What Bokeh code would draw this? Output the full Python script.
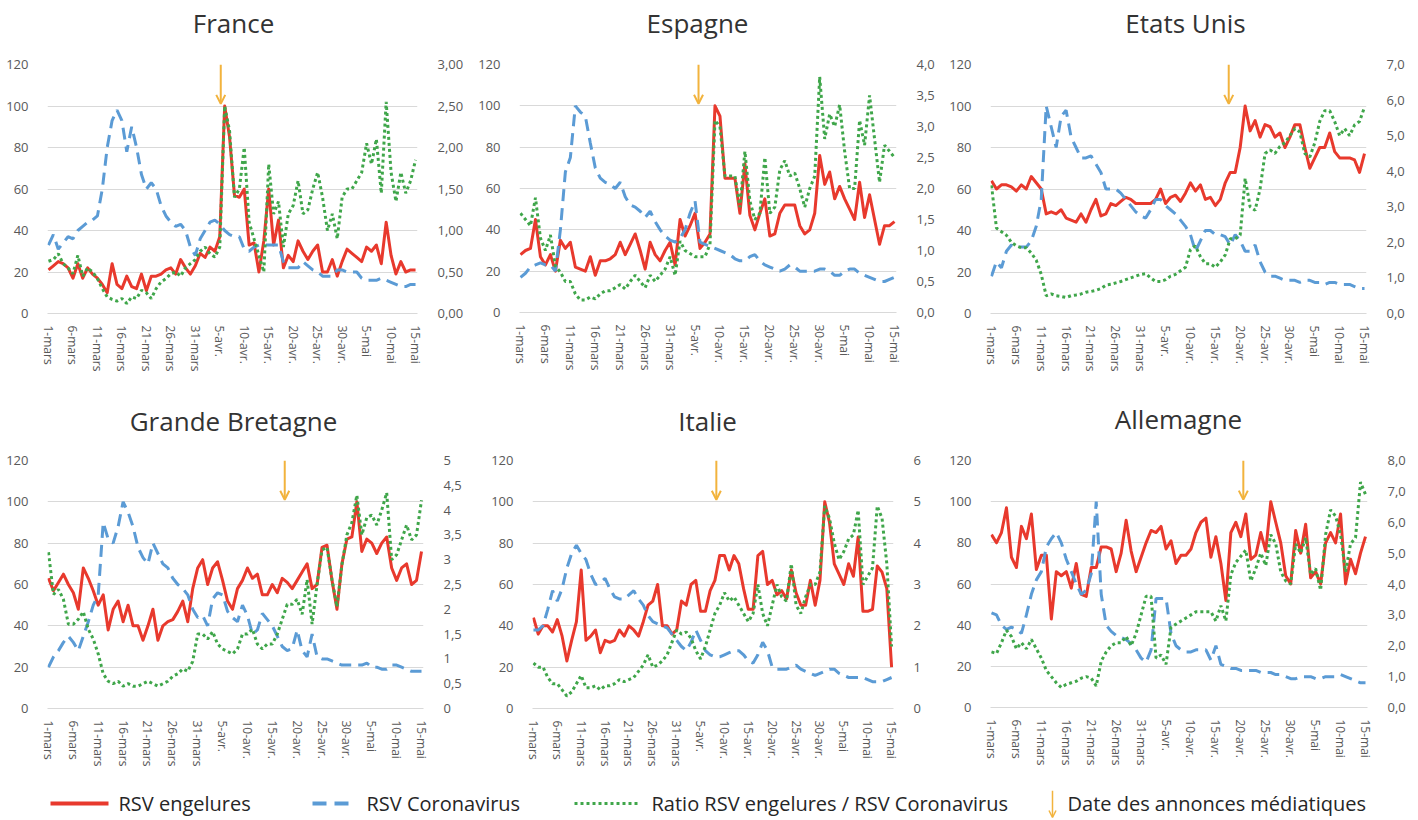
from bokeh.plotting import figure
from bokeh.models import Range1d, LinearAxis, FixedTicker, Arrow, OpenHead
from bokeh.layouts import column, row
from bokeh.embed import file_html
from bokeh.resources import INLINE
from bokeh.core.properties import value

# ---------------- data ----------------
days = list(range(76))  # 1-mars ... 15-mai
x_tick_days = [0, 5, 10, 15, 20, 25, 30, 35, 40, 45, 50, 55, 60, 65, 70, 75]
x_tick_labels = ["1-mars", "6-mars", "11-mars", "16-mars", "21-mars", "26-mars", "31-mars",
                 "5-avr.", "10-avr.", "15-avr.", "20-avr.", "25-avr.", "30-avr.",
                 "5-mai", "10-mai", "15-mai"]
left_ticks = [0, 20, 40, 60, 80, 100, 120]

titles_top = ["France", "Espagne", "Etats Unis"]
titles_bottom = ["Grande Bretagne", "Italie", "Allemagne"]

france_red = [21,23,25,24,22,17,24,17,22,19, 17,14,10,24,14,12,18,13,12,19,
              11,18,18,19,21,22,19,26,22,19, 23,29,27,32,30,37,100,85,57,56,
              60,33,34,20,35,60,33,45,22,28, 25,35,30,26,30,33,20,20,26,18,
              25,31,29,27,25,32,30,33,24,44, 28,19,25,20,21,21]
france_blue = [33,38,31,34,37,36,40,42,44,45, 47,60,80,93,98,93,78,90,80,67,
               60,63,60,52,47,44,42,43,40,32, 28,36,40,44,45,43,40,38,37,37,
               31,30,32,33,33,33,33,33,25,22, 22,22,25,23,21,20,18,18,18,21,
               21,20,20,20,17,16,16,16,17,16, 15,14,13,13,14,14]
france_ratio = [0.63,0.65,0.72,0.6,0.55,0.48,0.7,0.45,0.55,0.5, 0.42,0.3,0.2,0.17,0.15,0.18,0.12,0.2,0.18,0.28,
                0.25,0.18,0.3,0.38,0.42,0.48,0.5,0.45,0.55,0.6, 0.65,0.75,0.8,0.72,0.68,0.8,2.5,2.2,1.4,1.5,
                2.0,1.1,0.9,0.7,0.5,1.8,1.2,1.35,0.8,1.2, 1.3,1.6,1.2,1.25,1.5,1.7,1.4,1.0,1.2,0.9,
                1.4,1.5,1.5,1.6,1.7,2.05,1.8,2.1,1.45,2.55, 1.7,1.35,1.7,1.45,1.6,1.85]
france_ratio_ticks = [0, 0.5, 1, 1.5, 2, 2.5, 3]
france_ratio_labels = ["0,00", "0,50", "1,00", "1,50", "2,00", "2,50", "3,00"]
france_announce = 35.2

espagne_red = [28,30,31,45,27,23,28,20,35,31, 34,22,21,20,27,18,25,25,26,28,
               34,28,33,38,30,21,34,28,25,30, 34,23,45,37,42,48,31,34,38,100,
               95,65,65,65,48,72,47,40,48,55, 37,38,48,52,52,52,42,38,40,48,
               76,62,68,55,61,55,50,45,63,46, 57,45,33,42,42,44]
espagne_blue = [17,19,22,23,24,23,23,20,40,68, 75,100,97,95,82,70,65,63,62,60,
                63,56,52,51,49,46,49,44,40,37, 35,34,36,40,48,54,34,33,32,31,
                30,29,28,26,25,25,27,28,25,23, 22,21,20,21,23,22,20,20,20,20,
                21,21,20,18,18,20,21,21,19,18, 17,16,15,15,16,17]
espagne_ratio = [1.6,1.5,1.4,1.85,1.2,1.0,1.25,0.75,0.65,0.5, 0.5,0.3,0.2,0.2,0.25,0.22,0.3,0.35,0.35,0.4,
                 0.45,0.38,0.5,0.6,0.5,0.4,0.6,0.5,0.6,0.7, 0.9,0.6,1.15,1.0,0.95,0.9,0.9,0.9,1.1,3.1,
                 3.0,2.2,2.2,2.2,1.7,2.6,1.8,1.5,1.6,2.5, 1.6,1.7,2.3,2.45,2.2,2.25,2.0,1.7,2.0,2.2,
                 3.8,2.8,3.2,3.0,3.35,2.6,2.0,2.0,3.1,2.7, 3.5,2.8,2.1,2.7,2.6,2.5]
espagne_ratio_ticks = [0, 0.5, 1, 1.5, 2, 2.5, 3, 3.5, 4]
espagne_ratio_labels = ["0,0", "0,5", "1,0", "1,5", "2,0", "2,5", "3,0", "3,5", "4,0"]
espagne_announce = 35.7

us_red = [64,60,62,62,61,59,62,60,66,63, 60,48,49,48,50,46,45,44,48,44,
          50,55,47,48,53,52,54,56,55,53, 53,53,53,55,60,53,56,57,54,58,
          63,59,62,55,56,52,55,63,68,68, 80,100,88,93,85,91,90,85,87,80,
          85,91,91,80,70,75,80,80,87,78, 75,75,75,74,68,77]
us_blue = [18,25,22,30,33,32,32,32,35,42, 55,100,90,80,95,98,85,80,75,75,
           76,72,68,60,60,60,58,55,52,49, 47,46,50,55,55,52,50,48,45,42,
           38,30,35,40,40,38,38,37,33,38, 35,30,30,33,25,20,18,18,17,16,
           16,16,15,16,16,15,15,14,15,15, 14,14,14,13,12,12]
us_ratio = [3.6,2.4,2.3,2.2,2.0,1.9,1.85,1.85,1.7,1.5, 1.1,0.5,0.55,0.5,0.48,0.45,0.5,0.52,0.55,0.6,
            0.62,0.65,0.7,0.8,0.82,0.86,0.9,0.95,1.0,1.05, 1.1,1.12,1.0,0.9,0.9,0.95,1.05,1.1,1.2,1.3,
            1.8,1.9,1.6,1.4,1.4,1.3,1.45,1.65,2.1,2.1, 2.2,3.8,3.0,2.9,3.5,4.5,4.6,4.5,4.7,4.8,
            5.0,5.2,5.1,4.5,4.4,4.8,5.4,5.7,5.7,5.4, 5.0,5.2,5.0,5.3,5.4,5.8]
us_ratio_ticks = [0, 1, 2, 3, 4, 5, 6, 7]
us_ratio_labels = ["0,0", "1,0", "2,0", "3,0", "4,0", "5,0", "6,0", "7,0"]
us_announce = 47.7

gb_red = [63,57,61,65,60,56,48,68,63,57, 50,55,38,48,52,42,50,40,40,33,
          40,48,33,40,42,43,47,52,42,58, 68,72,60,68,71,62,52,48,58,62,
          68,63,65,55,55,60,56,63,61,58, 62,66,70,58,60,78,79,62,48,70,
          82,83,100,76,82,80,75,80,83,68, 62,68,70,60,62,76]
gb_blue = [20,25,28,32,35,32,28,35,42,50, 55,90,82,80,88,100,95,88,78,73,
           70,80,75,70,68,63,60,58,55,48, 44,45,40,53,56,55,47,44,42,50,
           45,36,38,46,43,40,35,30,28,29, 38,28,25,36,25,24,24,23,22,21,
           21,21,21,21,22,20,20,19,19,21, 21,20,19,18,18,18]
gb_ratio = [3.15,2.3,2.4,2.2,1.7,1.7,1.8,1.95,1.6,1.4, 1.1,0.7,0.55,0.5,0.55,0.45,0.5,0.45,0.45,0.5,
            0.55,0.5,0.45,0.5,0.55,0.65,0.7,0.8,0.75,0.95, 1.5,1.5,1.4,1.55,1.3,1.2,1.15,1.1,1.2,1.5,
            1.5,1.6,1.3,1.2,1.3,1.3,1.5,1.8,2.1,2.1, 2.2,1.9,2.6,1.7,2.5,3.2,3.25,2.6,2.05,2.9,
            3.5,3.75,4.3,3.5,3.85,3.9,3.7,4.0,4.35,3.0, 3.1,3.4,3.7,3.4,3.5,4.2]
gb_ratio_ticks = [0, 0.5, 1, 1.5, 2, 2.5, 3, 3.5, 4, 4.5, 5]
gb_ratio_labels = ["0", "0,5", "1", "1,5", "2", "2,5", "3", "3,5", "4", "4,5", "5"]
gb_announce = 47.5

italie_red = [44,36,40,40,37,43,35,23,33,42, 67,33,35,38,27,33,32,33,38,35,
              40,38,35,42,50,52,60,40,40,36, 38,52,50,60,62,47,47,57,62,74,
              74,67,74,70,58,48,48,74,76,60, 62,55,57,53,67,56,50,50,62,50,
              62,100,90,70,65,60,70,64,83,47, 47,48,69,66,58,20]
italie_blue = [38,38,40,48,57,52,58,68,75,79, 75,72,65,60,61,63,58,54,53,53,
               55,57,53,50,45,42,41,40,39,36, 33,30,28,32,38,33,28,26,25,25,
               26,27,28,28,26,23,22,26,32,28, 20,19,19,19,20,21,19,18,17,16,
               17,18,19,19,17,16,15,15,15,15, 14,13,13,13,14,15]
italie_ratio = [1.1,1.0,1.0,0.75,0.6,0.6,0.45,0.3,0.4,0.6, 0.8,0.5,0.5,0.55,0.45,0.55,0.55,0.6,0.7,0.65,
                0.7,0.75,0.9,1.05,1.3,1.0,1.05,1.15,1.3,1.6, 1.9,1.8,1.85,1.7,1.4,1.2,1.5,1.9,2.3,2.5,
                2.8,2.6,2.7,2.5,2.3,2.1,2.3,3.0,2.3,2.0, 2.5,3.0,2.7,2.6,3.5,2.5,2.3,2.7,3.0,3.0,
                3.3,4.9,4.6,4.0,3.6,3.8,4.1,4.2,4.8,3.0, 3.2,3.4,4.9,4.6,3.5,1.5]
italie_ratio_ticks = [0, 1, 2, 3, 4, 5, 6]
italie_ratio_labels = ["0", "1", "2", "3", "4", "5", "6"]
italie_announce = 38.3

allemagne_red = [84,80,85,97,73,68,88,82,94,67, 74,74,43,66,64,66,58,70,55,54,
                 68,68,78,78,77,66,75,91,76,66, 73,80,86,85,88,77,81,70,74,74,
                 77,85,90,92,73,83,70,52,85,90, 83,94,72,74,85,76,100,90,80,64,
                 60,86,75,89,63,66,60,80,85,80, 94,60,72,65,75,83]
allemagne_blue = [46,45,40,38,39,38,36,45,55,62, 66,78,82,85,80,72,66,60,55,57,
                  65,100,55,40,37,35,34,33,31,28, 24,22,28,53,53,53,36,30,28,27,
                  27,28,28,28,23,30,21,20,19,19, 18,18,18,18,17,17,17,16,16,15,
                  14,14,15,15,15,14,14,15,15,15, 16,15,14,13,12,12]
allemagne_ratio = [1.8,1.75,2.1,2.5,2.3,1.9,2.1,1.9,2.2,1.9, 1.6,1.2,1.0,0.8,0.65,0.75,0.8,0.85,0.95,1.0,
                   0.95,0.7,1.5,1.8,2.0,2.1,2.1,2.3,2.0,2.4, 3.0,3.6,3.6,1.6,1.7,1.4,2.6,2.7,2.8,2.9,
                   3.0,3.1,3.1,3.1,3.1,2.8,3.3,2.8,4.3,4.7, 4.9,5.1,4.1,4.5,5.0,4.6,5.6,5.3,4.4,4.1,
                   4.0,5.3,5.0,5.5,4.3,4.5,3.8,5.6,6.4,6.2, 5.6,4.4,5.3,5.5,7.3,6.9]
allemagne_ratio_ticks = [0, 1, 2, 3, 4, 5, 6, 7, 8]
allemagne_ratio_labels = ["0,0", "1,0", "2,0", "3,0", "4,0", "5,0", "6,0", "7,0", "8,0"]
allemagne_announce = 50.5

arrow_top = 120
arrow_tip = 101

legend_labels = ["RSV engelures", "RSV Coronavirus",
                 "Ratio RSV engelures / RSV Coronavirus", "Date des annonces médiatiques"]

# ---------------- style ----------------
FONT = "Open Sans"
RED = "#E8392D"
BLUE = "#5B9BD5"
GREEN = "#3FA64A"
ORANGE = "#F2B33D"
GRID = "#D9D9D9"
TXT = "#595959"
TITLE_C = "#333333"
PAGE_W = 1412
X0, X1 = -0.2, 75.4


def strip(height):
    s = figure(width=PAGE_W, height=height, output_backend="svg", toolbar_location=None,
               x_range=Range1d(0, PAGE_W), y_range=Range1d(0, height),
               x_axis_type=None, y_axis_type=None, min_border=0,
               outline_line_color=None, border_fill_color="white",
               background_fill_color="white")
    s.grid.visible = False
    return s


def panel(red, blue, ratio, rticks, rlabels, announce, bl, fw, br, bt, fh, bb):
    p = figure(frame_width=fw, frame_height=fh, output_backend="svg",
               toolbar_location=None, title=None,
               x_range=Range1d(X0, X1), y_range=Range1d(0, 120),
               min_border_left=bl, min_border_right=br,
               min_border_top=bt, min_border_bottom=bb,
               outline_line_color=None, border_fill_color="white",
               background_fill_color="white")
    p.extra_y_ranges = {"ratio": Range1d(0, rticks[-1])}

    ya = p.yaxis[0]
    ya.ticker = FixedTicker(ticks=left_ticks)
    ya.axis_line_color = None
    ya.major_tick_line_color = None
    ya.minor_tick_line_color = None
    ya.major_label_standoff = 13
    ya.major_label_text_font = FONT
    ya.major_label_text_font_size = "13px"
    ya.major_label_text_color = TXT

    xa = p.xaxis[0]
    xa.ticker = FixedTicker(ticks=x_tick_days)
    xa.major_label_overrides = dict(zip(x_tick_days, x_tick_labels))
    xa.major_label_orientation = "vertical"
    xa.axis_line_color = GRID
    xa.major_tick_line_color = None
    xa.minor_tick_line_color = None
    xa.major_label_standoff = 6
    xa.major_label_text_font = FONT
    xa.major_label_text_font_size = "12px"
    xa.major_label_text_color = TXT

    p.xgrid.grid_line_color = None
    p.ygrid.grid_line_color = GRID
    p.ygrid.ticker = FixedTicker(ticks=left_ticks)

    ra = LinearAxis(y_range_name="ratio", ticker=FixedTicker(ticks=rticks),
                    major_label_overrides=dict(zip(rticks, rlabels)))
    ra.axis_line_color = None
    ra.major_tick_line_color = None
    ra.minor_tick_line_color = None
    ra.major_label_standoff = 14
    ra.major_label_text_font = FONT
    ra.major_label_text_font_size = "13px"
    ra.major_label_text_color = TXT
    p.add_layout(ra, "right")

    p.line(days, red, line_color=RED, line_width=3, line_join="round")
    p.line(days, blue, line_color=BLUE, line_width=3, line_dash="12 7")
    p.line(days, ratio, line_color=GREEN, line_width=3, line_dash="3 3",
           y_range_name="ratio")

    p.add_layout(Arrow(end=OpenHead(size=9, line_color=ORANGE, line_width=2),
                       x_start=announce, y_start=arrow_top,
                       x_end=announce, y_end=arrow_tip,
                       line_color=ORANGE, line_width=2))
    return p


# title strip, row 1
t1 = strip(45)
t1.text(x=[233, 697, 1185], y=[23, 23, 23], text=titles_top,
        text_align="center", text_baseline="middle",
        text_font=value(FONT), text_font_size="26px", text_color=TITLE_C)

p1 = panel(france_red, france_blue, france_ratio,
           france_ratio_ticks, france_ratio_labels, france_announce,
           47, 370, 58, 18, 249, 88)
p2 = panel(espagne_red, espagne_blue, espagne_ratio,
           espagne_ratio_ticks, espagne_ratio_labels, espagne_announce,
           43, 377, 47, 19, 248, 88)
p3 = panel(us_red, us_blue, us_ratio,
           us_ratio_ticks, us_ratio_labels, us_announce,
           47, 376, 44, 18, 249, 88)

# title strip, row 2
t2 = strip(40)
t2.text(x=[233, 707, 1178], y=[20, 20, 22], text=titles_bottom,
        text_align="center", text_baseline="middle",
        text_font=value(FONT), text_font_size="26px", text_color=TITLE_C)

p4 = panel(gb_red, gb_blue, gb_ratio,
           gb_ratio_ticks, gb_ratio_labels, gb_announce,
           47, 376, 52, 20, 248, 82)
p5 = panel(italie_red, italie_blue, italie_ratio,
           italie_ratio_ticks, italie_ratio_labels, italie_announce,
           57, 361, 49, 20, 248, 82)
p6 = panel(allemagne_red, allemagne_blue, allemagne_ratio,
           allemagne_ratio_ticks, allemagne_ratio_labels, allemagne_announce,
           48, 377, 42, 16, 247, 87)

# legend strip
leg = strip(28)
leg.line([50, 108], [15, 15], line_color=RED, line_width=4)
leg.line([312, 350], [15, 15], line_color=BLUE, line_width=4, line_dash="14 8")
leg.line([574, 637], [15, 15], line_color=GREEN, line_width=3, line_dash="3 3")
leg.add_layout(Arrow(end=OpenHead(size=7, line_color=ORANGE, line_width=1.5),
                     x_start=1052, y_start=28, x_end=1052, y_end=1,
                     line_color=ORANGE, line_width=1.5))
leg.text(x=[118, 366, 651, 1067], y=[15, 15, 15, 15], text=legend_labels,
         text_baseline="middle", text_align="left",
         text_font=value(FONT), text_font_size="20px", text_color="#262626")

layout = column(t1, row(p1, p2, p3), t2, row(p4, p5, p6), leg)
open("out.html", "w").write(file_html(layout, INLINE))
